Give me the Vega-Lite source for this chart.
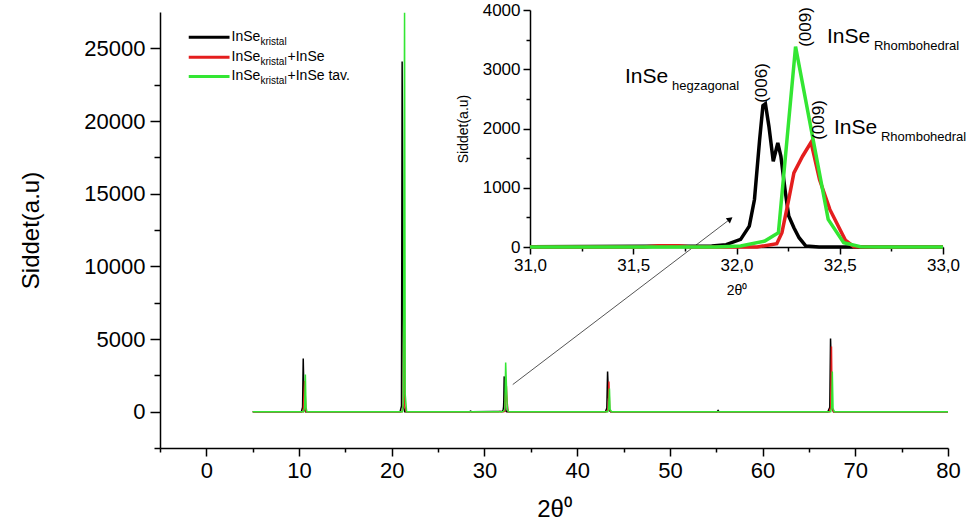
{
  "$schema": "https://vega.github.io/schema/vega-lite/v6.json",
  "autosize": {"type": "none"},
  "width": 788,
  "height": 436,
  "padding": {"left": 160, "top": 12, "right": 29, "bottom": 79},
  "background": "white",
  "config": {
    "view": {"stroke": null},
    "font": "Liberation Sans",
    "axis": {"grid": false, "domainColor": "#000", "tickColor": "#000", "labelColor": "#000", "titleColor": "#000", "titleFontWeight": "normal", "domainWidth": 1.5, "tickWidth": 1.5, "labelFont": "Liberation Sans", "titleFont": "Liberation Sans"}
  },
  "datasets": {
    "xrd": [
      {"s":"k","x":5,"y":0},{"s":"k","x":10.25,"y":0},{"s":"k","x":10.38,"y":300},{"s":"k","x":10.45,"y":3660},{"s":"k","x":10.5,"y":2000},{"s":"k","x":10.58,"y":150},{"s":"k","x":10.7,"y":0},
      {"s":"k","x":20.9,"y":0},{"s":"k","x":21.05,"y":400},{"s":"k","x":21.12,"y":24100},{"s":"k","x":21.2,"y":10200},{"s":"k","x":21.28,"y":300},{"s":"k","x":21.4,"y":0},
      {"s":"k","x":28.4,"y":0},{"s":"k","x":28.5,"y":40},{"s":"k","x":28.6,"y":0},
      {"s":"k","x":31,"y":5},{"s":"k","x":31.88,"y":17},{"s":"k","x":31.95,"y":40},{"s":"k","x":32.02,"y":129},{"s":"k","x":32.062,"y":353},{"s":"k","x":32.087,"y":802},{"s":"k","x":32.112,"y":1812},{"s":"k","x":32.128,"y":2384},{"s":"k","x":32.14,"y":2418},{"s":"k","x":32.157,"y":2036},{"s":"k","x":32.178,"y":1447},{"s":"k","x":32.2,"y":1756},{"s":"k","x":32.215,"y":1532},{"s":"k","x":32.237,"y":914},{"s":"k","x":32.253,"y":522},{"s":"k","x":32.278,"y":325},{"s":"k","x":32.303,"y":157},{"s":"k","x":32.336,"y":17},{"s":"k","x":32.4,"y":0},{"s":"k","x":33,"y":0},
      {"s":"k","x":43.05,"y":0},{"s":"k","x":43.2,"y":250},{"s":"k","x":43.28,"y":2760},{"s":"k","x":43.35,"y":1500},{"s":"k","x":43.45,"y":100},{"s":"k","x":43.6,"y":0},
      {"s":"k","x":55.1,"y":0},{"s":"k","x":55.2,"y":80},{"s":"k","x":55.3,"y":0},
      {"s":"k","x":67.05,"y":0},{"s":"k","x":67.25,"y":300},{"s":"k","x":67.33,"y":5040},{"s":"k","x":67.38,"y":3800},{"s":"k","x":67.48,"y":300},{"s":"k","x":67.65,"y":0},
      {"s":"k","x":80,"y":0},
      {"s":"r","x":5,"y":0},{"s":"r","x":10.45,"y":0},{"s":"r","x":10.6,"y":2100},{"s":"r","x":10.75,"y":0},
      {"s":"r","x":21.1,"y":0},{"s":"r","x":21.25,"y":500},{"s":"r","x":21.32,"y":11700},{"s":"r","x":21.4,"y":400},{"s":"r","x":21.55,"y":0},
      {"s":"r","x":31,"y":0},{"s":"r","x":31.55,"y":0},{"s":"r","x":31.62,"y":20},{"s":"r","x":31.72,"y":20},{"s":"r","x":31.78,"y":0},
      {"s":"r","x":32.1,"y":0},{"s":"r","x":32.195,"y":56},{"s":"r","x":32.22,"y":241},{"s":"r","x":32.253,"y":802},{"s":"r","x":32.278,"y":1251},{"s":"r","x":32.32,"y":1532},{"s":"r","x":32.361,"y":1767},{"s":"r","x":32.402,"y":1139},{"s":"r","x":32.452,"y":634},{"s":"r","x":32.527,"y":118},{"s":"r","x":32.568,"y":6},{"s":"r","x":32.65,"y":0},{"s":"r","x":33,"y":0},
      {"s":"r","x":43.2,"y":0},{"s":"r","x":43.35,"y":200},{"s":"r","x":43.42,"y":2070},{"s":"r","x":43.5,"y":150},{"s":"r","x":43.65,"y":0},
      {"s":"r","x":67.2,"y":0},{"s":"r","x":67.35,"y":300},{"s":"r","x":67.43,"y":4490},{"s":"r","x":67.5,"y":300},{"s":"r","x":67.65,"y":0},
      {"s":"r","x":80,"y":0},
      {"s":"g","x":5,"y":0},{"s":"g","x":10.5,"y":0},{"s":"g","x":10.6,"y":300},{"s":"g","x":10.68,"y":2550},{"s":"g","x":10.75,"y":300},{"s":"g","x":10.85,"y":0},
      {"s":"g","x":21.15,"y":0},{"s":"g","x":21.25,"y":600},{"s":"g","x":21.38,"y":27450},{"s":"g","x":21.45,"y":1200},{"s":"g","x":21.6,"y":0},
      {"s":"g","x":31,"y":0},{"s":"g","x":31.9,"y":0},{"s":"g","x":32.02,"y":17},{"s":"g","x":32.137,"y":101},{"s":"g","x":32.203,"y":241},{"s":"g","x":32.286,"y":3383},{"s":"g","x":32.444,"y":466},{"s":"g","x":32.519,"y":73},{"s":"g","x":32.6,"y":6},{"s":"g","x":32.7,"y":0},{"s":"g","x":33,"y":0},
      {"s":"g","x":43.3,"y":0},{"s":"g","x":43.4,"y":200},{"s":"g","x":43.48,"y":1600},{"s":"g","x":43.55,"y":150},{"s":"g","x":43.7,"y":0},
      {"s":"g","x":67.35,"y":0},{"s":"g","x":67.45,"y":300},{"s":"g","x":67.52,"y":2760},{"s":"g","x":67.6,"y":200},{"s":"g","x":67.75,"y":0},
      {"s":"g","x":80,"y":0}
    ],
    "legend": [
      {"s":"k","y":25760,"suf":""},
      {"s":"r","y":24380,"suf":"+InSe"},
      {"s":"g","y":23066,"suf":"+InSe tav."}
    ],
    "insetText": [
      {"x":31.46,"y":2768,"t":"InSe","sub":"hegzagonal"},
      {"x":32.438,"y":3443,"t":"InSe","sub":"Rhombohedral"},
      {"x":32.472,"y":1907,"t":"InSe","sub":"Rhombohedral"}
    ],
    "insetRot": [
      {"x":32.123,"y":2768,"t":"(006)"},
      {"x":32.337,"y":3713,"t":"(009)"},
      {"x":32.4,"y":2143,"t":"(009)"}
    ]
  },
  "resolve": {"scale": {"x": "independent", "y": "independent"}, "axis": {"x": "independent", "y": "independent"}},
  "layer": [
    {
      "data": {"name": "legend"},
      "mark": {"type": "point", "opacity": 0},
      "encoding": {
        "y": {"field": "y", "type": "quantitative", "scale": {"domain": [-2500, 27500], "nice": false, "zero": false},
          "axis": {"orient": "left", "title": null, "labels": false, "domain": false, "tickSize": 6,
            "values": [-2500,2500,7500,12500,17500,22500]}}
      }
    },
    {
      "layer": [
        {
          "data": {"name": "xrd"},
          "mark": {"type": "line", "strokeWidth": 1.5, "clip": true},
          "encoding": {
            "x": {"field": "x", "type": "quantitative", "scale": {"domain": [-5, 80], "nice": false, "zero": false},
              "axis": {"orient": "bottom", "title": "2θ⁰", "titleFontSize": 24, "titlePadding": 16, "labelFontSize": 22, "labelPadding": 4,
                "values": [-5,0,5,10,15,20,25,30,35,40,45,50,55,60,65,70,75,80],
                "labelExpr": "datum.value % 10 === 0 ? datum.label : ''",
                "tickSize": {"condition": {"test": "datum.value % 10 !== 0", "value": 4}, "value": 8},
                "labelFlush": false, "labelOverlap": false}},
            "y": {"field": "y", "type": "quantitative", "scale": {"domain": [-2500, 27500], "nice": false, "zero": false},
              "axis": {"orient": "left", "title": "Siddet(a.u)", "titleFontSize": 24, "titlePadding": 40, "labelFontSize": 22, "labelPadding": 5, "format": "d",
                "values": [0,5000,10000,15000,20000,25000], "tickSize": 10,
                "labelFlush": false, "labelOverlap": false}},
            "color": {"field": "s", "type": "nominal", "scale": {"domain": ["k","r","g"], "range": ["#000000","#e41e1e","#33e633"]}, "legend": null}
          }
        },
        {
          "data": {"name": "legend"},
          "mark": {"type": "rule", "strokeWidth": 3},
          "encoding": {
            "x": {"datum": -1.9, "type": "quantitative"},
            "x2": {"datum": 2.5},
            "y": {"field": "y", "type": "quantitative"},
            "color": {"field": "s", "type": "nominal", "legend": null}
          }
        },
        {
          "data": {"name": "legend"},
          "mark": {"type": "text", "align": "left", "baseline": "middle", "fontSize": 14, "dx": 2},
          "encoding": {
            "x": {"datum": 2.5, "type": "quantitative"},
            "y": {"field": "y", "type": "quantitative"},
            "text": {"value": "InSe"}
          }
        },
        {
          "data": {"name": "legend"},
          "mark": {"type": "text", "align": "left", "baseline": "middle", "fontSize": 10, "dx": 31, "dy": 5},
          "encoding": {
            "x": {"datum": 2.5, "type": "quantitative"},
            "y": {"field": "y", "type": "quantitative"},
            "text": {"value": "kristal"}
          }
        },
        {
          "data": {"name": "legend"},
          "mark": {"type": "text", "align": "left", "baseline": "middle", "fontSize": 14, "dx": 58},
          "encoding": {
            "x": {"datum": 2.5, "type": "quantitative"},
            "y": {"field": "y", "type": "quantitative"},
            "text": {"field": "suf"}
          }
        },
        {
          "data": {"values": [{}]},
          "mark": {"type": "rule", "strokeWidth": 1, "color": "#555555"},
          "encoding": {
            "x": {"datum": 33.05, "type": "quantitative"},
            "y": {"datum": 1865, "type": "quantitative"},
            "x2": {"datum": 56.5},
            "y2": {"datum": 13250}
          }
        },
        {
          "data": {"values": [{}]},
          "mark": {"type": "point", "shape": "triangle-up", "filled": true, "color": "#000000", "size": 45, "angle": 52.5, "opacity": 1},
          "encoding": {
            "x": {"datum": 56.5, "type": "quantitative"},
            "y": {"datum": 13250, "type": "quantitative"}
          }
        }
      ]
    },
    {
      "layer": [
        {
          "data": {"name": "xrd"},
          "transform": [{"filter": "datum.x >= 31 && datum.x <= 33"}],
          "mark": {"type": "line", "strokeWidth": 3.5},
          "encoding": {
            "x": {"field": "x", "type": "quantitative", "scale": {"domain": [31, 33], "range": [370, 783], "nice": false, "zero": false},
              "axis": {"orient": "bottom", "offset": -201, "title": "2θ⁰", "titleFontSize": 14, "titlePadding": 10, "labelFontSize": 17, "labelPadding": 3,
                "values": [31,31.25,31.5,31.75,32,32.25,32.5,32.75,33],
                "labelExpr": "(datum.value * 2) % 1 === 0 ? replace(format(datum.value, '.1f'), '.', ',') : ''",
                "tickSize": {"condition": {"test": "(datum.value * 2) % 1 !== 0", "value": 4}, "value": 7},
                "labelFlush": false, "labelOverlap": false}},
            "y": {"field": "y", "type": "quantitative", "scale": {"domain": [0, 4000], "range": [235, -2], "nice": false, "zero": false},
              "axis": {"orient": "left", "offset": -370, "title": "Siddet(a.u)", "titleFontSize": 14, "titlePadding": 12, "labelFontSize": 17, "labelPadding": 3, "format": "d",
                "values": [0,500,1000,1500,2000,2500,3000,3500,4000],
                "labelExpr": "datum.value % 1000 === 0 ? datum.label : ''",
                "tickSize": {"condition": {"test": "datum.value % 1000 !== 0", "value": 4}, "value": 7},
                "labelFlush": false, "labelOverlap": false}},
            "color": {"field": "s", "type": "nominal", "scale": {"domain": ["k","r","g"], "range": ["#000000","#e41e1e","#33e633"]}, "legend": null}
          }
        },
        {
          "data": {"name": "insetText"},
          "mark": {"type": "text", "align": "left", "baseline": "alphabetic", "fontSize": 21},
          "encoding": {
            "x": {"field": "x", "type": "quantitative"},
            "y": {"field": "y", "type": "quantitative"},
            "text": {"field": "t"}
          }
        },
        {
          "data": {"name": "insetText"},
          "mark": {"type": "text", "align": "left", "baseline": "alphabetic", "fontSize": 13, "dx": 47, "dy": 7},
          "encoding": {
            "x": {"field": "x", "type": "quantitative"},
            "y": {"field": "y", "type": "quantitative"},
            "text": {"field": "sub"}
          }
        },
        {
          "data": {"name": "insetRot"},
          "mark": {"type": "text", "align": "center", "baseline": "middle", "fontSize": 17, "angle": 270},
          "encoding": {
            "x": {"field": "x", "type": "quantitative"},
            "y": {"field": "y", "type": "quantitative"},
            "text": {"field": "t"}
          }
        }
      ]
    }
  ]
}
